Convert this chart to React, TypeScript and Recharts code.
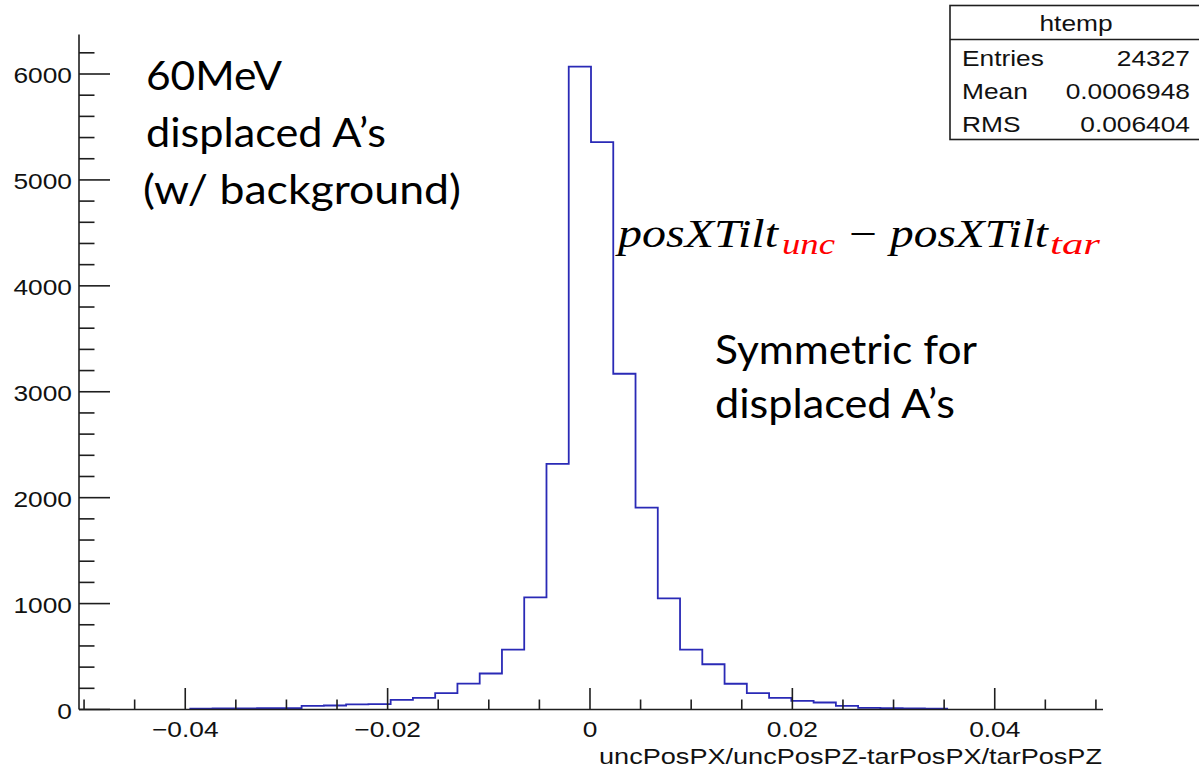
import React from "react";
import { ComposedChart, Line, XAxis, YAxis } from "recharts";

// Histogram definition (ROOT htemp): 46 bins from -0.0505, width 0.0022
const HIST_MIN = -0.0505;
const BIN_WIDTH = 0.0022;
const FIRST_FILLED_BIN = 5;
// counts of bins 5..38
const binCounts = [
  8, 10, 10, 12, 12, 35, 38, 48, 50, 90, 110, 154, 245, 340, 566, 1059, 2320,
  6070, 5356, 3170, 1906, 1050, 565, 427, 243, 155, 110, 82, 66, 35, 15, 12, 10, 8,
];

const X_DOMAIN: [number, number] = [-0.0505, 0.0507];
const Y_DOMAIN: [number, number] = [0, 6373];

const xMajorTicks = [-0.04, -0.02, 0, 0.02, 0.04];
const xMajorLabels = ["\u22120.04", "\u22120.02", "0", "0.02", "0.04"];
const xMinorTicks = [
  -0.05, -0.045, -0.035, -0.03, -0.025, -0.015, -0.01, -0.005, 0.005, 0.01, 0.015,
  0.025, 0.03, 0.035, 0.045, 0.05,
];
const yMajorTicks = [0, 1000, 2000, 3000, 4000, 5000, 6000];
const yMinorTicks = [
  200, 400, 600, 800, 1200, 1400, 1600, 1800, 2200, 2400, 2600, 2800, 3200, 3400,
  3600, 3800, 4200, 4400, 4600, 4800, 5200, 5400, 5600, 5800, 6200,
];

const statsTitle = "htemp";
const statsLabels = ["Entries", "Mean", "RMS"];
const statsValues = ["24327", "0.0006948", "0.006404"];
const xTitle = "uncPosPX/uncPosPZ-tarPosPX/tarPosPZ";
const noteLeft = ["60MeV", "displaced A\u2019s", "(w/ background)"];
const noteRight = ["Symmetric for", "displaced A\u2019s"];

// Build step data from bins
const histData: { x: number; y: number }[] = (() => {
  const pts: { x: number; y: number }[] = [];
  const edge = (k: number) => +(HIST_MIN + k * BIN_WIDTH).toFixed(6);
  pts.push({ x: edge(FIRST_FILLED_BIN), y: 0 });
  binCounts.forEach((c, i) => pts.push({ x: edge(FIRST_FILLED_BIN + i), y: c }));
  const last = FIRST_FILLED_BIN + binCounts.length;
  pts.push({ x: edge(last), y: binCounts[binCounts.length - 1] });
  pts.push({ x: edge(last), y: 0 });
  return pts;
})();

const xAllTicks = [...xMajorTicks, ...xMinorTicks].sort((a, b) => a - b);
const yAllTicks = [...yMajorTicks, ...yMinorTicks].sort((a, b) => a - b);

const AXIS_COLOR = "#1e1e1e";
const ROOT_FONT = "'Liberation Sans', Arial, Helvetica, sans-serif";
const CAL_FONT = "Lato, 'Open Sans', sans-serif";
const MATH_FONT = "'Liberation Serif', 'DejaVu Serif', serif";
const HIST_COLOR = "#2a2ab6";
const ROOT_SIZE = 22.5;
const ROOT_STRETCH = 1.17;

// ROOT canvas text (the canvas picture is stretched horizontally in the slide)
const RootText = ({ x, y, anchor = "start", children, textLength }: any) => (
  <text
    transform={`translate(${x},${y}) scale(${ROOT_STRETCH},1)`}
    textAnchor={anchor}
    fontFamily={ROOT_FONT}
    fontSize={ROOT_SIZE}
    fill="#111"
    textLength={textLength}
    lengthAdjust={textLength ? "spacingAndGlyphs" : undefined}
  >
    {children}
  </text>
);

const XTick = (props: any) => {
  const { x, y, payload } = props;
  const v = payload.value;
  const mi = xMajorTicks.indexOf(v);
  const major = mi >= 0;
  return (
    <g>
      <line x1={x} x2={x} y1={y} y2={y - (major ? 21.5 : 10)} stroke={AXIS_COLOR} strokeWidth={1.6} />
      {major && (
        <RootText x={x} y={y + 27} anchor="middle">
          {xMajorLabels[mi]}
        </RootText>
      )}
    </g>
  );
};

const YTick = (props: any) => {
  const { x, y, payload } = props;
  const v = payload.value;
  const major = yMajorTicks.includes(v);
  return (
    <g>
      <line x1={x} x2={x + (major ? 31 : 15.5)} y1={y} y2={y} stroke={AXIS_COLOR} strokeWidth={1.6} />
      {major && (
        <RootText x={x - 7} y={y + 9} anchor="end">
          {String(v)}
        </RootText>
      )}
    </g>
  );
};

export default function App() {
  return (
    <div style={{ position: "absolute", left: 0, top: 0, width: 1199, height: 772, background: "#fff" }}>
      <ComposedChart
        width={1199}
        height={772}
        data={histData}
        margin={{ top: 34.5, right: 96, left: 0, bottom: 0 }}
      >
        <XAxis
          xAxisId="b"
          type="number"
          dataKey="x"
          domain={X_DOMAIN}
          allowDataOverflow
          ticks={xAllTicks}
          interval={0}
          tick={(p: any) => <XTick {...p} />}
          tickLine={false}
          tickSize={0}
          tickMargin={0}
          height={62.5}
          axisLine={{ stroke: AXIS_COLOR, strokeWidth: 1.6 }}
        />
        <XAxis
          xAxisId="t"
          orientation="top"
          type="number"
          domain={X_DOMAIN}
          allowDataOverflow
          height={0}
          tick={false}
          tickLine={false}
          axisLine={{ stroke: AXIS_COLOR, strokeWidth: 1.6 }}
        />
        <YAxis
          yAxisId="l"
          type="number"
          domain={Y_DOMAIN}
          allowDataOverflow
          ticks={yAllTicks}
          interval={0}
          tick={(p: any) => <YTick {...p} />}
          tickLine={false}
          tickSize={0}
          tickMargin={0}
          width={79}
          axisLine={{ stroke: AXIS_COLOR, strokeWidth: 1.6 }}
        />
        <YAxis
          yAxisId="r"
          orientation="right"
          type="number"
          domain={Y_DOMAIN}
          allowDataOverflow
          width={0}
          tick={false}
          tickLine={false}
          axisLine={{ stroke: AXIS_COLOR, strokeWidth: 1.6 }}
        />
        <Line
          xAxisId="b"
          yAxisId="l"
          type="stepAfter"
          dataKey="y"
          stroke={HIST_COLOR}
          strokeWidth={1.8}
          dot={false}
          activeDot={false}
          isAnimationActive={false}
        />
      </ComposedChart>
      <svg
        width={1199}
        height={772}
        style={{ position: "absolute", left: 0, top: 0, pointerEvents: "none" }}
      >
        {/* Stats box */}
        <rect x={950} y={5.5} width={260} height={134} fill="#fff" stroke={AXIS_COLOR} strokeWidth={1.6} />
        <line x1={950} x2={1199} y1={39.5} y2={39.5} stroke={AXIS_COLOR} strokeWidth={1.6} />
        <RootText x={1076} y={31} anchor="middle">
          {statsTitle}
        </RootText>
        {statsLabels.map((l, i) => (
          <RootText key={l} x={962} y={66 + i * 33}>
            {l}
          </RootText>
        ))}
        {statsValues.map((v, i) => (
          <RootText key={v} x={1190} y={66 + i * 33} anchor="end">
            {v}
          </RootText>
        ))}
        {/* x-axis title */}
        <text
          x={1102}
          y={763.5}
          textAnchor="end"
          fontFamily={ROOT_FONT}
          fontSize={ROOT_SIZE}
          fill="#111"
          textLength={503}
          lengthAdjust="spacingAndGlyphs"
        >
          {xTitle}
        </text>
        {/* Left note */}
        <text x={146} y={90} fontFamily={CAL_FONT} fontSize={41.5} fill="#000" textLength={136} lengthAdjust="spacingAndGlyphs">
          {noteLeft[0]}
        </text>
        <text x={146} y={147} fontFamily={CAL_FONT} fontSize={41.5} fill="#000" textLength={240} lengthAdjust="spacingAndGlyphs">
          {noteLeft[1]}
        </text>
        <text x={143} y={204} fontFamily={CAL_FONT} fontSize={41.5} fill="#000" textLength={318} lengthAdjust="spacingAndGlyphs">
          {noteLeft[2]}
        </text>
        {/* Right note */}
        <text x={715} y={364} fontFamily={CAL_FONT} fontSize={41.5} fill="#000" textLength={262} lengthAdjust="spacingAndGlyphs">
          {noteRight[0]}
        </text>
        <text x={715} y={418} fontFamily={CAL_FONT} fontSize={41.5} fill="#000" textLength={240} lengthAdjust="spacingAndGlyphs">
          {noteRight[1]}
        </text>
        {/* Formula */}
        <g fontFamily={MATH_FONT} fontStyle="italic">
          <text x={618} y={247} fontSize={40} fill="#000" textLength={160} lengthAdjust="spacingAndGlyphs">posXTilt</text>
          <text x={782} y={254} fontSize={29} fill="#ff0000" textLength={53} lengthAdjust="spacingAndGlyphs">unc</text>
          <text x={849} y={247} fontSize={40} fill="#000" fontStyle="normal" textLength={28} lengthAdjust="spacingAndGlyphs">{"\u2212"}</text>
          <text x={890} y={247} fontSize={40} fill="#000" textLength={158} lengthAdjust="spacingAndGlyphs">posXTilt</text>
          <text x={1050} y={254} fontSize={29} fill="#ff0000" textLength={50} lengthAdjust="spacingAndGlyphs">tar</text>
        </g>
      </svg>
    </div>
  );
}
